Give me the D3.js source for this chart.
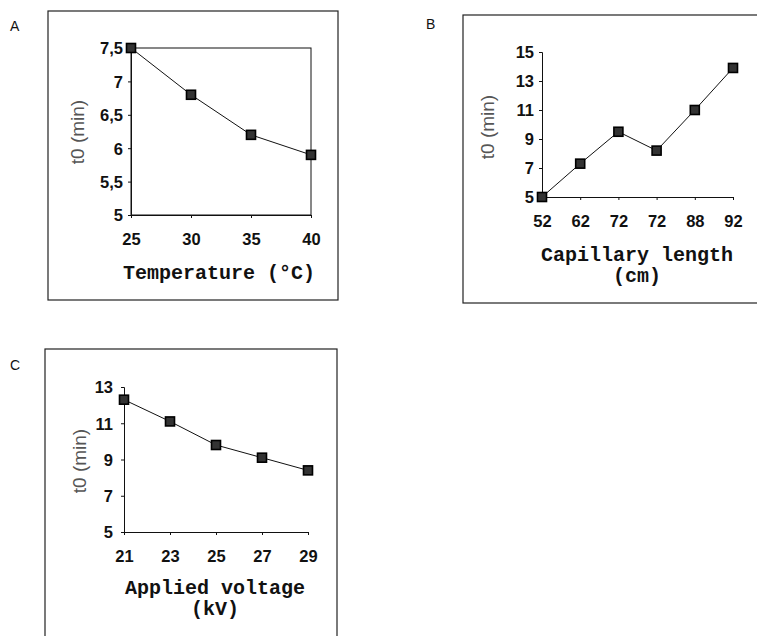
<!DOCTYPE html>
<html>
<head>
<meta charset="utf-8">
<script src="https://cdn.jsdelivr.net/npm/d3@7"></script>
<style>
body { margin: 0; background: #fff; }
svg text { fill: #111; }
</style>
</head>
<body>
<script>
// panel A - temperature
var tempX = [25, 30, 35, 40];
var tempT0 = [7.5, 6.8, 6.2, 5.9];
var tempYTicks = [5, 5.5, 6, 6.5, 7, 7.5];

// panel B - capillary length (categorical, 72 appears twice)
var capLabels = ["52", "62", "72", "72", "88", "92"];
var capT0 = [5, 7.3, 9.5, 8.2, 11, 13.9];
var capYTicks = [5, 7, 9, 11, 13, 15];

// panel C - applied voltage
var voltX = [21, 23, 25, 27, 29];
var voltT0 = [12.3, 11.1, 9.8, 9.1, 8.4];
var voltYTicks = [5, 7, 9, 11, 13];

var svg = d3.select("body").append("svg")
  .attr("width", 757)
  .attr("height", 636);

var commaFmt = function(d){ return String(d).replace(".", ","); };

function drawPanel(p){
  // outer frame
  svg.append("rect")
    .attr("x", p.box[0]).attr("y", p.box[1])
    .attr("width", p.box[2]).attr("height", p.box[3])
    .attr("fill", "none").attr("stroke", "#222").attr("stroke-width", 1.2);

  svg.append("text")
    .attr("x", p.letter[0]).attr("y", p.letter[1])
    .style("font-family", "Liberation Sans, Arial, sans-serif")
    .style("font-size", "14px")
    .text(p.name);

  var g = svg.append("g");

  var y = d3.scaleLinear().domain(p.yDomain).range([p.plot[3], p.plot[1]]);
  var x, xs;
  if(p.categorical){
    x = d3.scalePoint().domain(d3.range(p.xs.length)).range([p.plot[0], p.plot[2]]);
    xs = d3.range(p.xs.length);
  } else {
    x = d3.scaleLinear().domain(p.xDomain).range([p.plot[0], p.plot[2]]);
    xs = p.xs;
  }

  if(p.frame){
    g.append("rect")
      .attr("x", p.plot[0]).attr("y", p.plot[1])
      .attr("width", p.plot[2]-p.plot[0]).attr("height", p.plot[3]-p.plot[1])
      .attr("fill", "none").attr("stroke", "#111").attr("stroke-width", 1);
  }

  var yAxis = d3.axisLeft(y).tickValues(p.yTicks).tickSize(3).tickPadding(p.yPad)
    .tickFormat(p.yFmt || d3.format("d"));
  var xAxis;
  if(p.categorical){
    xAxis = d3.axisBottom(x).tickSize(3).tickPadding(15)
      .tickFormat(function(i){ return p.xs[i]; });
  } else {
    xAxis = d3.axisBottom(x).tickValues(p.xTicks).tickSize(3).tickPadding(15)
      .tickFormat(d3.format("d"));
  }

  var ya = g.append("g").attr("transform", "translate(" + p.plot[0] + ",0)").call(yAxis);
  var xa = g.append("g").attr("transform", "translate(0," + p.plot[3] + ")").call(xAxis);
  [ya, xa].forEach(function(a){
    a.select(".domain").attr("stroke", "#111");
    a.selectAll(".tick line").attr("stroke", "#111");
    a.selectAll("text")
      .style("font-family", "Liberation Sans, Arial, sans-serif")
      .style("font-weight", "bold")
      .style("font-size", "16.5px")
      .attr("fill", "#111");
  });
  ya.selectAll("text").attr("dy", "0.36em");

  var pts = xs.map(function(d, i){ return [x(d), y(p.ys[i])]; });

  g.append("path")
    .datum(pts)
    .attr("d", d3.line())
    .attr("fill", "none")
    .attr("stroke", "#111")
    .attr("stroke-width", 1);

  g.selectAll(".pt")
    .data(pts)
    .enter()
    .append("rect")
    .attr("x", function(d){ return d[0]-4.5; })
    .attr("y", function(d){ return d[1]-4.5; })
    .attr("width", 9).attr("height", 9)
    .attr("fill", "#333")
    .attr("stroke", "#000")
    .attr("stroke-width", 1.6);

  // y title
  svg.append("text")
    .attr("transform", "translate(" + p.yTitle[0] + "," + p.yTitle[1] + ") rotate(-90)")
    .attr("text-anchor", "middle")
    .style("font-family", "Liberation Sans, Arial, sans-serif")
    .style("font-size", "19px")
    .style("fill", "#555")
    .text("t0 (min)");

  // x title (one or two lines)
  p.xTitle.forEach(function(line, i){
    svg.append("text")
      .attr("x", p.xTitlePos[0])
      .attr("y", p.xTitlePos[1] + i*21)
      .attr("text-anchor", "middle")
      .style("font-family", "Liberation Mono, Courier New, monospace")
      .style("font-weight", "bold")
      .style("font-size", "20px")
      .text(line);
  });
}

drawPanel({
  name: "A", letter: [10, 31],
  box: [48, 11, 290, 289],
  plot: [131, 48, 311, 215],
  frame: true,
  xs: tempX, ys: tempT0, xDomain: [25, 40], xTicks: tempX,
  yDomain: [5, 7.5], yTicks: tempYTicks, yFmt: commaFmt, yPad: 5,
  yTitle: [84, 132],
  xTitle: ["Temperature (\u00b0C)"], xTitlePos: [219, 279]
});

drawPanel({
  name: "B", letter: [426, 29],
  box: [463, 15, 310, 288],
  plot: [542, 52, 733, 197],
  frame: false, categorical: true,
  xs: capLabels, ys: capT0,
  yDomain: [5, 15], yTicks: capYTicks, yPad: 5,
  yTitle: [494, 127],
  xTitle: ["Capillary length", "(cm)"], xTitlePos: [637, 261]
});

drawPanel({
  name: "C", letter: [10, 370],
  box: [45, 349, 292, 300],
  plot: [124, 387, 308, 532],
  frame: false,
  xs: voltX, ys: voltT0, xDomain: [21, 29], xTicks: voltX,
  yDomain: [5, 13], yTicks: voltYTicks, yPad: 8,
  yTitle: [86, 461],
  xTitle: ["Applied voltage", "(kV)"], xTitlePos: [215, 594]
});
</script>
</body>
</html>
